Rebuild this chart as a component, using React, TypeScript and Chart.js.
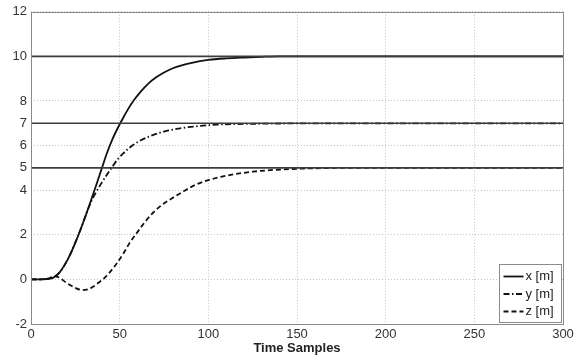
import React, { useEffect, useRef } from "react";
import { Chart, registerables } from "chart.js";

Chart.register(...registerables);

// Time samples and series values
const xSeriesT = [0, 5, 10, 13, 16, 19, 22, 25, 28, 31, 34, 37, 40, 43, 46, 49, 52, 55, 58, 62, 66, 70, 75, 80, 85, 90, 100, 110, 120, 130, 140, 160, 200, 250, 300];
const xSeriesV = [0, 0, 0.02, 0.1, 0.3, 0.65, 1.1, 1.65, 2.25, 2.9, 3.58, 4.28, 5.0, 5.7, 6.3, 6.8, 7.25, 7.67, 8.03, 8.43, 8.77, 9.03, 9.28, 9.47, 9.6, 9.7, 9.84, 9.91, 9.95, 9.98, 10, 10, 10, 10, 10];

const ySeriesT = [0, 5, 10, 13, 16, 19, 22, 25, 28, 31, 34, 37, 40, 43, 46, 49, 52, 55, 58, 62, 67, 72, 77, 82, 88, 95, 105, 120, 140, 160, 200, 250, 300];
const ySeriesV = [0, 0, 0.02, 0.1, 0.3, 0.65, 1.1, 1.65, 2.25, 2.9, 3.5, 3.95, 4.35, 4.72, 5.07, 5.4, 5.65, 5.87, 6.05, 6.24, 6.42, 6.56, 6.67, 6.75, 6.82, 6.88, 6.94, 6.97, 6.99, 7, 7, 7, 7];

const zSeriesT = [0, 5, 10, 13, 16, 19, 22, 25, 29, 32, 35, 38, 41, 44, 48, 52, 56, 60, 64, 69, 74, 80, 86, 93, 100, 107, 115, 125, 135, 150, 165, 180, 220, 260, 300];
const zSeriesV = [0, 0, 0.05, 0.15, 0.08, -0.1, -0.25, -0.38, -0.48, -0.45, -0.33, -0.15, 0.03, 0.28, 0.68, 1.15, 1.68, 2.12, 2.55, 3.0, 3.35, 3.66, 3.95, 4.25, 4.45, 4.6, 4.72, 4.83, 4.9, 4.96, 4.99, 5, 5, 5, 5];

const seriesLabels = ["x [m]", "y [m]", "z [m]"];
const targetValues = [10, 7, 5];
const yTickValues = [-2, 0, 2, 4, 5, 6, 7, 8, 10, 12];
const xMin = 0;
const xMax = 300;

const FONT = "'Liberation Sans', Arial, sans-serif";

const toPoints = (t: number[], v: number[]) => t.map((x, i) => ({ x, y: v[i] }));

const boxPlugin = {
  id: "boxAndLegend",
  afterDraw(chart: any) {
    const { ctx, chartArea } = chart;
    ctx.save();
    // MATLAB style axes box
    ctx.strokeStyle = "#8a8a8a";
    ctx.lineWidth = 1;
    ctx.setLineDash([]);
    ctx.strokeRect(
      Math.round(chartArea.left) + 0.5,
      Math.round(chartArea.top) + 0.5,
      Math.round(chartArea.right - chartArea.left),
      Math.round(chartArea.bottom - chartArea.top)
    );
    // Legend box inside plot area
    const items = chart.data.datasets.filter((d: any) => d.showInLegend);
    const w = 62;
    const rowH = 17.5;
    const h = 58;
    const bx = Math.round(chartArea.right - 2 - w) + 0.5;
    const by = Math.round(chartArea.bottom - 2 - h) + 0.5;
    ctx.fillStyle = "#ffffff";
    ctx.fillRect(bx, by, w, h);
    ctx.strokeStyle = "#8a8a8a";
    ctx.strokeRect(bx, by, w, h);
    ctx.font = `13px ${FONT}`;
    ctx.textBaseline = "middle";
    ctx.textAlign = "left";
    items.forEach((d: any, i: number) => {
      const cy = by + 12 + i * rowH;
      ctx.strokeStyle = "#111";
      ctx.lineWidth = 1.8;
      ctx.setLineDash(d.borderDash || []);
      ctx.beginPath();
      ctx.moveTo(bx + 4, cy);
      ctx.lineTo(bx + 24, cy);
      ctx.stroke();
      ctx.setLineDash([]);
      ctx.fillStyle = "#222";
      ctx.fillText(d.label, bx + 26, cy);
    });
    ctx.restore();
  },
};

export default function App() {
  const canvasRef = useRef<HTMLCanvasElement | null>(null);

  useEffect(() => {
    if (!canvasRef.current) return;
    const refLines = targetValues.map((v) => ({
      label: "target " + v,
      data: [
        { x: xMin, y: v },
        { x: xMax, y: v },
      ],
      borderColor: "#3c3c3c",
      borderWidth: 1.6,
      pointRadius: 0,
      showInLegend: false,
    }));
    const styles = [
      { dash: [] as number[] },
      { dash: [6, 2.5, 1.5, 2.5] },
      { dash: [5, 3] },
    ];
    const series = [
      toPoints(xSeriesT, xSeriesV),
      toPoints(ySeriesT, ySeriesV),
      toPoints(zSeriesT, zSeriesV),
    ];
    const mainSets = series.map((data, i) => ({
      label: seriesLabels[i],
      data,
      borderColor: "#111111",
      borderWidth: 1.8,
      borderDash: styles[i].dash,
      pointRadius: 0,
      cubicInterpolationMode: "monotone" as const,
      showInLegend: true,
    }));

    const chart = new Chart(canvasRef.current, {
      type: "line",
      data: { datasets: [...refLines, ...mainSets] as any },
      options: {
        animation: false,
        responsive: true,
        maintainAspectRatio: false,
        layout: { padding: { top: 10, right: 24, left: 0, bottom: 0 } },
        plugins: {
          legend: { display: false },
          tooltip: { enabled: false },
        },
        scales: {
          x: {
            type: "linear",
            min: xMin,
            max: xMax,
            ticks: {
              stepSize: 50,
              color: "#333",
              font: { family: FONT, size: 13 },
              padding: 3,
              maxRotation: 0,
            },
            grid: { color: "#c4c4c4", drawTicks: false, lineWidth: 1 },
            border: { display: false, dash: [1, 2] },
            title: {
              display: true,
              text: "Time Samples",
              color: "#222",
              font: { family: FONT, size: 13, weight: "bold" },
              padding: { top: 0, bottom: 3 },
            },
            afterFit: (scale: any) => {
              scale.height = 35;
            },
          } as any,
          y: {
            type: "linear",
            min: -2,
            max: 12,
            afterBuildTicks: (scale: any) => {
              scale.ticks = yTickValues.map((v) => ({ value: v }));
            },
            ticks: {
              color: "#333",
              font: { family: FONT, size: 13 },
              padding: 4,
            },
            grid: { color: "#c4c4c4", drawTicks: false, lineWidth: 1 },
            border: { display: false, dash: [1, 2] },
            afterFit: (scale: any) => {
              scale.width = 31;
            },
          } as any,
        },
      },
      plugins: [boxPlugin],
    });
    return () => chart.destroy();
  }, []);

  return (
    <div style={{ position: "absolute", left: 0, top: 0, width: 587, height: 359, background: "#fff" }}>
      <canvas ref={canvasRef} />
    </div>
  );
}
